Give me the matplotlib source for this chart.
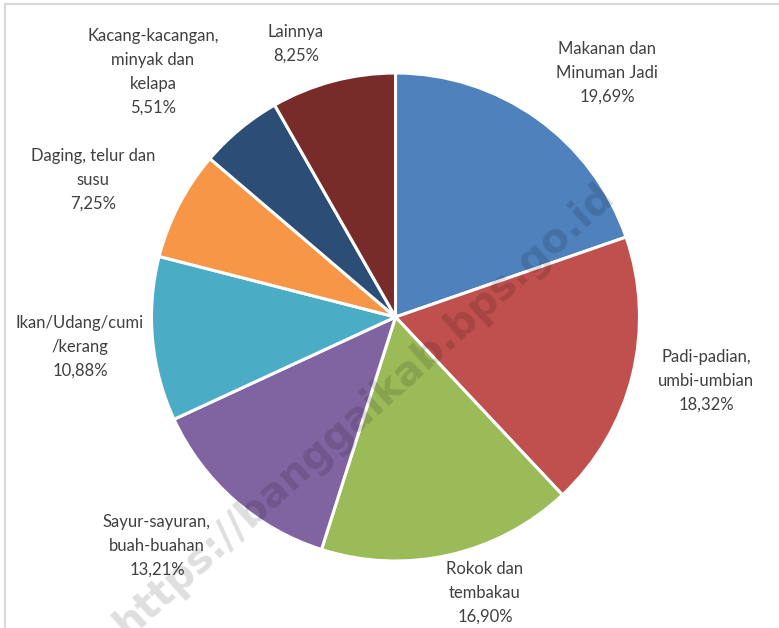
import matplotlib.pyplot as plt
from matplotlib.lines import Line2D

# share of spending per food group (percent)
groups = ['Makanan dan\nMinuman Jadi', 'Padi-padian,\numbi-umbian', 'Rokok dan\ntembakau',
          'Sayur-sayuran,\nbuah-buahan', 'Ikan/Udang/cumi\n/kerang', 'Daging, telur dan\nsusu',
          'Kacang-kacangan,\nminyak dan\nkelapa', 'Lainnya']
shares = [19.69, 18.32, 16.90, 13.21, 10.88, 7.25, 5.51, 8.25]
colors = ['#4F81BD', '#C0504D', '#9BBB59', '#8064A2', '#4BACC6', '#F79646', '#2C4D75', '#772C2A']

# label centres in pixel coords (x from left, y from top)
label_pos = [(607, 73), (706, 381), (485, 593), (157, 546), (80, 347), (93, 180), (153, 72), (296, 44)]

W, H = 779, 628
fig = plt.figure(figsize=(W / 100, H / 100), dpi=100)
ax = fig.add_axes([0, 0, 1, 1])

ax.pie(shares, colors=colors, startangle=90, counterclock=False,
       center=(395.5, H - 317), radius=244, frame=True,
       wedgeprops=dict(edgecolor='white', linewidth=2.2))

for name, val, (x, y) in zip(groups, shares, label_pos):
    txt = name + '\n' + f'{val:.2f}'.replace('.', ',') + '%'
    ax.text(x, H - y, txt, ha='center', va='center', fontsize=12, family='Lato',
            color='#404040', linespacing=1.6)

# watermark
ax.text(364, H - 410, 'https://banggaikab.bps.go.id', rotation=42, ha='center', va='center',
        fontsize=29, fontweight='bold', family='DejaVu Sans', color='black', alpha=0.13)

# chart frame (top and left edges visible)
ax.add_line(Line2D([5, W], [H - 4, H - 4], color='#d9d9d9', lw=1.5))
ax.add_line(Line2D([5, 5], [0, H - 4], color='#d9d9d9', lw=1.5))

ax.set_xlim(0, W)
ax.set_ylim(0, H)
ax.set_aspect('auto')
ax.axis('off')

fig.savefig('out.png', dpi=100)
